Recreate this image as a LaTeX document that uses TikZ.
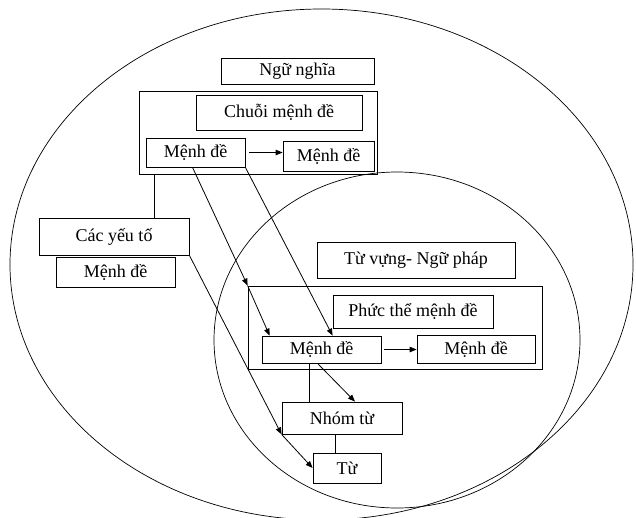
\documentclass[tikz,border=0pt]{standalone}
\usepackage{fontspec}
\setmainfont{Liberation Serif}
\usetikzlibrary{arrows.meta}
\tikzset{
  hop/.style={draw, line width=0.8pt, inner sep=0pt, font=\fontsize{18}{20}\selectfont},
  mui/.style={-{Triangle[length=7pt,width=5.5pt]}, line width=0.8pt},
  noi/.style={line width=0.8pt}
}
\begin{document}
\begin{tikzpicture}[x=1pt,y=-1pt]
\useasboundingbox (0,0) rectangle (636,517);
\draw[line width=0.7pt] (321.5,264.5) ellipse [x radius=311.5, y radius=255.5];
\draw[line width=0.7pt] (397,340) ellipse [x radius=183, y radius=168];
\node[hop, minimum width=153, minimum height=26] (ngu) at (297.5,71) {Ngữ nghĩa};
\node[hop, minimum width=238, minimum height=83] (khung1) at (258,132.5) {};
\node[hop, minimum width=166, minimum height=35] (chuoi) at (279,112.5) {Chuỗi mệnh đề};
\node[hop, minimum width=99, minimum height=29] (md1) at (195.5,152.5) {Mệnh đề};
\node[hop, minimum width=91, minimum height=30] (md2) at (328.5,156) {Mệnh đề};
\node[hop, minimum width=150, minimum height=37] (yeuto) at (114,236.5) {Các yếu tố};
\node[hop, minimum width=119, minimum height=30] (md4) at (115.5,272) {Mệnh đề};
\node[hop, minimum width=198, minimum height=36] (tuvung) at (416,260) {Từ vựng- Ngữ pháp};
\node[hop, minimum width=294, minimum height=83] (khung2) at (395,327.5) {};
\node[hop, minimum width=160, minimum height=33] (phuc) at (413,311.5) {Phức thể mệnh đề};
\node[hop, minimum width=119, minimum height=27] (md3) at (321.5,349.5) {Mệnh đề};
\node[hop, minimum width=118, minimum height=28] (md5) at (476,349) {Mệnh đề};
\node[hop, minimum width=120, minimum height=32] (nhom) at (342,418) {Nhóm từ};
\node[hop, minimum width=68, minimum height=30] (tu) at (347,468) {Từ};
\draw[mui] ([xshift=4]md1.east) -- (md1.east -| md2.west);
\draw[mui] ([xshift=3]md3.east) -- (md3.east -| md5.west);
\draw[noi] ([xshift=16]khung1.south west) -- ([xshift=16]khung1.south west |- yeuto.north);
\draw[mui] ([xshift=-3]md1.south) -- (khung2.north west);
\draw[mui] (khung2.north west) -- ([xshift=8]md3.north west);
\draw[mui] (md1.south east) -- (md3.north -| phuc.south west);
\draw[mui] (yeuto.south east) -- (nhom.south west);
\draw[mui] (nhom.south west) -- (tu.west);
\draw[noi] ([xshift=-12.5]md3.south) -- ([xshift=-12.5]md3.south |- nhom.north);
\draw[mui] ([xshift=-4]md3.south) -- ([xshift=13]nhom.north);
\draw[noi] ([xshift=-7]nhom.south) -- ([xshift=-7]nhom.south |- tu.north);
\end{tikzpicture}
\end{document}
